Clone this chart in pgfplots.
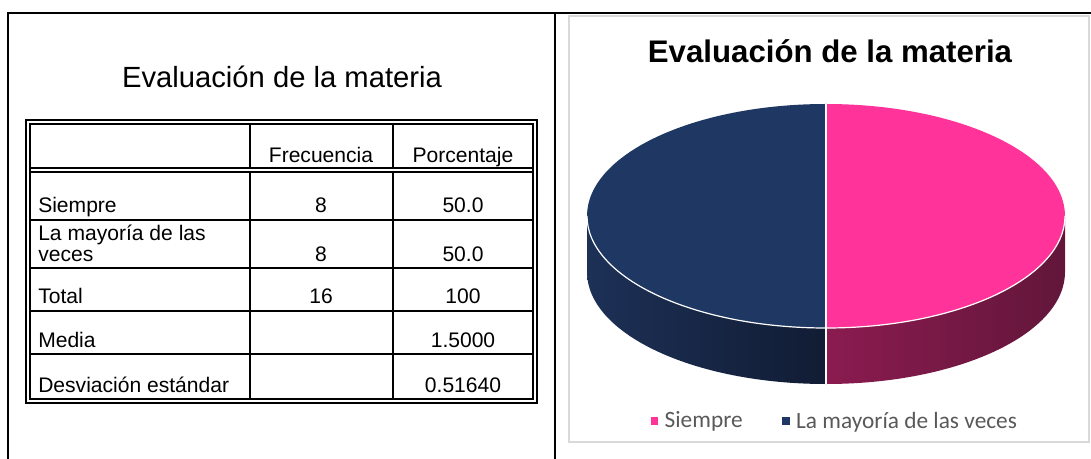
\documentclass[border=0pt]{standalone}
\usepackage{pgfplots}
\pgfplotsset{compat=1.18}
\usepackage{pgfplotstable}
\usepackage{fontspec}
\setmainfont{Liberation Sans}
\newfontfamily\calibri{Carlito}
\definecolor{pinktop}{HTML}{FF3399}
\definecolor{bluetop}{HTML}{1F3763}
\definecolor{pinkL}{HTML}{8B1B50}
\definecolor{pinkR}{HTML}{62163A}
\definecolor{blueL}{HTML}{1D3056}
\definecolor{blueR}{HTML}{111C34}
\definecolor{leggray}{HTML}{595959}
\definecolor{framegray}{HTML}{D9D9D9}

\pgfplotstableread{
categoria frecuencia
Siempre 8
Mayoria 8
}\piedata

\begin{document}
\begin{tikzpicture}[x=0.75pt,y=0.75pt]
\useasboundingbox (0,0) rectangle (1091,-459);
% outer frame
\draw[line width=1.2pt] (8,-459) -- (8,-13) -- (1091,-13);
\draw[line width=1.2pt] (555,-13) -- (555,-459);
% left title
\node[anchor=base, font=\fontsize{21.9}{26}\selectfont, inner sep=0] at (282,-88) {Evaluación de la materia};
% table
\draw[line width=1.1pt] (26,-120) rectangle (537,-403);
\draw[line width=1.1pt] (30,-124) rectangle (533,-399);
\draw[line width=1.1pt] (30,-168) -- (533,-168);
\draw[line width=1.1pt] (30,-172) -- (533,-172);
\foreach \yy in {220,268,311,354} \draw[line width=1.1pt] (30,-\yy) -- (533,-\yy);
\draw[line width=1.1pt] (250,-124) -- (250,-168) (250,-172) -- (250,-399);
\draw[line width=1.1pt] (393,-124) -- (393,-168) (393,-172) -- (393,-399);
\begin{scope}[every node/.style={inner sep=0, font=\fontsize{15.8}{19}\selectfont}]
\node[anchor=base] at (321,-163) {Frecuencia};
\node[anchor=base] at (463,-163) {Porcentaje};
\node[anchor=base west] at (38,-213) {Siempre};
\node[anchor=base] at (321,-213) {8};
\node[anchor=base] at (463,-213) {50.0};
\node[anchor=base west] at (38,-241) {La mayoría de las};
\node[anchor=base west] at (38,-262) {veces};
\node[anchor=base] at (321,-262) {8};
\node[anchor=base] at (463,-262) {50.0};
\node[anchor=base west] at (38,-304) {Total};
\node[anchor=base] at (321,-304) {16};
\node[anchor=base] at (463,-304) {100};
\node[anchor=base west] at (38,-347) {Media};
\node[anchor=base] at (463,-347) {1.5000};
\node[anchor=base west] at (38,-392) {Desviación estándar};
\node[anchor=base] at (463,-392) {0.51640};
\end{scope}
% chart frame and title
\draw[framegray, line width=1.5pt] (569,-16) rectangle (1089,-442);
\node[anchor=base, inner sep=0, font=\bfseries\fontsize{23.4}{27}\selectfont] at (830,-63) {Evaluación de la materia};
\pgfplotstablegetelem{0}{frecuencia}\of\piedata \let\va\pgfplotsretval
\pgfplotstablegetelem{1}{frecuencia}\of\piedata \let\vb\pgfplotsretval
\pgfmathsetmacro\angA{90-360*\va/(\va+\vb)}
\pgfmathsetmacro\angB{\angA-360*\vb/(\va+\vb)}
\pgfmathsetmacro\pa{0}
\pgfmathsetmacro\pb{max(\angA,-180)}
\pgfmathsetmacro\ba{min(\angA,0)}
\pgfmathsetmacro\bb{-180}
\begin{axis}[at={(440.25pt,-288pt)}, anchor=south west, scale only axis,
  width=358.5pt, height=210pt, xmin=-1, xmax=1, ymin=-1.5, ymax=1,
  hide axis, clip=false,
  legend style={at={(0.519,-0.132)}, anchor=center, draw=none, fill=none,
    legend columns=2, font=\calibri\fontsize{17.5}{20}\selectfont, text=leggray,
    /tikz/every odd column/.append style={column sep=3pt},
    /tikz/every even column/.append style={column sep=27.5pt}},
  legend cell align=left]
\addlegendimage{legend image code/.code={\fill[pinktop] (0pt,-2.6pt) rectangle (5.2pt,2.6pt);}}
\addlegendentry{Siempre}
\addlegendimage{legend image code/.code={\fill[bluetop] (0pt,-2.6pt) rectangle (5.2pt,2.6pt);}}
\addlegendentry{La mayoría de las veces}
% side walls
\shade[left color=pinkL, middle color=pinkR, right color=pinkR]
  (axis cs:{cos(\pa)},{sin(\pa)}) arc[start angle=\pa, end angle=\pb, x radius=179.25pt, y radius=84pt]
  -- (axis cs:{cos(\pb)},{sin(\pb)-0.5}) arc[start angle=\pb, end angle=\pa, x radius=179.25pt, y radius=84pt] -- cycle;
\shade[left color=blueL, right color=blueR]
  (axis cs:{cos(\ba)},{sin(\ba)}) arc[start angle=\ba, end angle=\bb, x radius=179.25pt, y radius=84pt]
  -- (axis cs:{cos(\bb)},{sin(\bb)-0.5}) arc[start angle=\bb, end angle=\ba, x radius=179.25pt, y radius=84pt] -- cycle;
% top faces
\fill[pinktop] (axis cs:0,0) -- (axis cs:{cos(90)},{sin(90)}) arc[start angle=90, end angle=\angA, x radius=179.25pt, y radius=84pt] -- cycle;
\fill[bluetop] (axis cs:0,0) -- (axis cs:{cos(\angA)},{sin(\angA)}) arc[start angle=\angA, end angle=\angB, x radius=179.25pt, y radius=84pt] -- cycle;
% white separators
\draw[white, line width=0.9pt] (axis cs:-1,0) arc[start angle=180, end angle=360, x radius=179.25pt, y radius=84pt];
\draw[white, line width=1.3pt] (axis cs:0,1) -- (axis cs:0,0) -- (axis cs:{cos(\angA)},{sin(\angA)}) -- (axis cs:{cos(\angA)},{sin(\angA)-0.5});
\end{axis}
\end{tikzpicture}
\end{document}
